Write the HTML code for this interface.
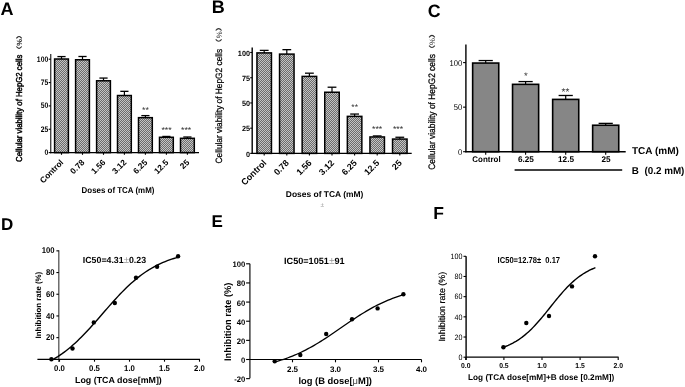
<!DOCTYPE html>
<html><head><meta charset="utf-8"><style>
html,body{margin:0;padding:0;background:#fff;}
svg{display:block;font-family:"Liberation Sans", sans-serif;will-change:transform;text-rendering:geometricPrecision;}
</style></head><body>
<svg width="685" height="387" viewBox="0 0 685 387">
<rect width="685" height="387" fill="#fff"/>
<defs><pattern id="chk" width="2" height="2" patternUnits="userSpaceOnUse"><rect width="2" height="2" fill="#6c6c6c"/><rect width="1" height="1" fill="#c4c4c4"/><rect x="1" y="1" width="1" height="1" fill="#c4c4c4"/></pattern></defs>
<text x="0.50" y="15.10" font-size="18" text-anchor="start" font-weight="bold" fill="#000">A</text>
<text x="211.80" y="13.40" font-size="18" text-anchor="start" font-weight="bold" fill="#000">B</text>
<text x="427.70" y="17.10" font-size="17.8" text-anchor="start" font-weight="bold" fill="#000">C</text>
<text x="1.00" y="230.10" font-size="17" text-anchor="start" font-weight="bold" fill="#000">D</text>
<text x="211.50" y="226.70" font-size="17" text-anchor="start" font-weight="bold" fill="#000">E</text>
<text x="433.30" y="218.60" font-size="17.5" text-anchor="start" font-weight="bold" fill="#000">F</text>
<rect x="54.60" y="59.01" width="13.8" height="93.59" fill="url(#chk)" stroke="#000" stroke-width="1.5"/>
<line x1="61.50" y1="59.01" x2="61.50" y2="56.58" stroke="#000" stroke-width="1.2"/>
<line x1="57.40" y1="56.58" x2="65.60" y2="56.58" stroke="#000" stroke-width="1.3"/>
<rect x="75.60" y="59.76" width="13.8" height="92.84" fill="url(#chk)" stroke="#000" stroke-width="1.5"/>
<line x1="82.50" y1="59.76" x2="82.50" y2="56.49" stroke="#000" stroke-width="1.2"/>
<line x1="78.40" y1="56.49" x2="86.60" y2="56.49" stroke="#000" stroke-width="1.3"/>
<rect x="96.60" y="80.78" width="13.8" height="71.82" fill="url(#chk)" stroke="#000" stroke-width="1.5"/>
<line x1="103.50" y1="80.78" x2="103.50" y2="78.07" stroke="#000" stroke-width="1.2"/>
<line x1="99.40" y1="78.07" x2="107.60" y2="78.07" stroke="#000" stroke-width="1.3"/>
<rect x="117.50" y="95.53" width="13.8" height="57.07" fill="url(#chk)" stroke="#000" stroke-width="1.5"/>
<line x1="124.40" y1="95.53" x2="124.40" y2="91.33" stroke="#000" stroke-width="1.2"/>
<line x1="120.30" y1="91.33" x2="128.50" y2="91.33" stroke="#000" stroke-width="1.3"/>
<rect x="138.50" y="117.67" width="13.8" height="34.93" fill="url(#chk)" stroke="#000" stroke-width="1.5"/>
<line x1="145.40" y1="117.67" x2="145.40" y2="115.61" stroke="#000" stroke-width="1.2"/>
<line x1="141.30" y1="115.61" x2="149.50" y2="115.61" stroke="#000" stroke-width="1.3"/>
<rect x="159.50" y="137.28" width="13.8" height="15.32" fill="url(#chk)" stroke="#000" stroke-width="1.5"/>
<line x1="166.40" y1="137.28" x2="166.40" y2="136.44" stroke="#000" stroke-width="1.2"/>
<line x1="162.30" y1="136.44" x2="170.50" y2="136.44" stroke="#000" stroke-width="1.3"/>
<rect x="180.50" y="138.31" width="13.8" height="14.29" fill="url(#chk)" stroke="#000" stroke-width="1.5"/>
<line x1="187.40" y1="138.31" x2="187.40" y2="137.00" stroke="#000" stroke-width="1.2"/>
<line x1="183.30" y1="137.00" x2="191.50" y2="137.00" stroke="#000" stroke-width="1.3"/>
<line x1="50.70" y1="54.00" x2="50.70" y2="153.20" stroke="#444" stroke-width="1.4"/>
<line x1="50.10" y1="152.60" x2="199.00" y2="152.60" stroke="#000" stroke-width="1.4"/>
<line x1="48.70" y1="59.20" x2="50.70" y2="59.20" stroke="#000" stroke-width="1.1"/>
<text transform="translate(48.20 61.56) rotate(0) scale(0.85 1)" font-size="8" text-anchor="end" font-weight="bold" fill="#000">100</text>
<line x1="48.70" y1="82.55" x2="50.70" y2="82.55" stroke="#000" stroke-width="1.1"/>
<text transform="translate(48.20 84.91) rotate(0) scale(0.85 1)" font-size="8" text-anchor="end" font-weight="bold" fill="#000">75</text>
<line x1="48.70" y1="105.90" x2="50.70" y2="105.90" stroke="#000" stroke-width="1.1"/>
<text transform="translate(48.20 108.26) rotate(0) scale(0.85 1)" font-size="8" text-anchor="end" font-weight="bold" fill="#000">50</text>
<line x1="48.70" y1="129.25" x2="50.70" y2="129.25" stroke="#000" stroke-width="1.1"/>
<text transform="translate(48.20 131.61) rotate(0) scale(0.85 1)" font-size="8" text-anchor="end" font-weight="bold" fill="#000">25</text>
<line x1="48.70" y1="152.60" x2="50.70" y2="152.60" stroke="#000" stroke-width="1.1"/>
<text transform="translate(48.20 154.96) rotate(0) scale(0.85 1)" font-size="8" text-anchor="end" font-weight="bold" fill="#000">0</text>
<line x1="61.50" y1="152.60" x2="61.50" y2="154.80" stroke="#000" stroke-width="1.1"/>
<line x1="82.50" y1="152.60" x2="82.50" y2="154.80" stroke="#000" stroke-width="1.1"/>
<line x1="103.50" y1="152.60" x2="103.50" y2="154.80" stroke="#000" stroke-width="1.1"/>
<line x1="124.40" y1="152.60" x2="124.40" y2="154.80" stroke="#000" stroke-width="1.1"/>
<line x1="145.40" y1="152.60" x2="145.40" y2="154.80" stroke="#000" stroke-width="1.1"/>
<line x1="166.40" y1="152.60" x2="166.40" y2="154.80" stroke="#000" stroke-width="1.1"/>
<line x1="187.40" y1="152.60" x2="187.40" y2="154.80" stroke="#000" stroke-width="1.1"/>
<rect x="256.95" y="52.90" width="14.5" height="100.50" fill="url(#chk)" stroke="#000" stroke-width="1.5"/>
<line x1="264.20" y1="52.90" x2="264.20" y2="50.38" stroke="#000" stroke-width="1.2"/>
<line x1="259.80" y1="50.38" x2="268.60" y2="50.38" stroke="#000" stroke-width="1.3"/>
<rect x="279.55" y="54.11" width="14.5" height="99.29" fill="url(#chk)" stroke="#000" stroke-width="1.5"/>
<line x1="286.80" y1="54.11" x2="286.80" y2="49.67" stroke="#000" stroke-width="1.2"/>
<line x1="282.40" y1="49.67" x2="291.20" y2="49.67" stroke="#000" stroke-width="1.3"/>
<rect x="302.15" y="76.41" width="14.5" height="76.99" fill="url(#chk)" stroke="#000" stroke-width="1.5"/>
<line x1="309.40" y1="76.41" x2="309.40" y2="73.18" stroke="#000" stroke-width="1.2"/>
<line x1="305.00" y1="73.18" x2="313.80" y2="73.18" stroke="#000" stroke-width="1.3"/>
<rect x="324.75" y="92.25" width="14.5" height="61.15" fill="url(#chk)" stroke="#000" stroke-width="1.5"/>
<line x1="332.00" y1="92.25" x2="332.00" y2="87.21" stroke="#000" stroke-width="1.2"/>
<line x1="327.60" y1="87.21" x2="336.40" y2="87.21" stroke="#000" stroke-width="1.3"/>
<rect x="347.35" y="116.37" width="14.5" height="37.03" fill="url(#chk)" stroke="#000" stroke-width="1.5"/>
<line x1="354.60" y1="116.37" x2="354.60" y2="114.05" stroke="#000" stroke-width="1.2"/>
<line x1="350.20" y1="114.05" x2="359.00" y2="114.05" stroke="#000" stroke-width="1.3"/>
<rect x="369.95" y="136.95" width="14.5" height="16.45" fill="url(#chk)" stroke="#000" stroke-width="1.5"/>
<line x1="377.20" y1="136.95" x2="377.20" y2="135.94" stroke="#000" stroke-width="1.2"/>
<line x1="372.80" y1="135.94" x2="381.60" y2="135.94" stroke="#000" stroke-width="1.3"/>
<rect x="392.55" y="139.07" width="14.5" height="14.33" fill="url(#chk)" stroke="#000" stroke-width="1.5"/>
<line x1="399.80" y1="139.07" x2="399.80" y2="137.26" stroke="#000" stroke-width="1.2"/>
<line x1="395.40" y1="137.26" x2="404.20" y2="137.26" stroke="#000" stroke-width="1.3"/>
<line x1="252.20" y1="47.60" x2="252.20" y2="154.00" stroke="#000" stroke-width="1.4"/>
<line x1="251.60" y1="153.40" x2="411.70" y2="153.40" stroke="#000" stroke-width="1.4"/>
<line x1="250.20" y1="52.50" x2="252.20" y2="52.50" stroke="#000" stroke-width="1.1"/>
<text transform="translate(250.00 55.79) rotate(0) scale(0.97 1)" font-size="7.5" text-anchor="end" font-weight="bold" fill="#000">100</text>
<line x1="250.20" y1="77.73" x2="252.20" y2="77.73" stroke="#000" stroke-width="1.1"/>
<text transform="translate(250.00 81.01) rotate(0) scale(0.97 1)" font-size="7.5" text-anchor="end" font-weight="bold" fill="#000">75</text>
<line x1="250.20" y1="102.95" x2="252.20" y2="102.95" stroke="#000" stroke-width="1.1"/>
<text transform="translate(250.00 106.24) rotate(0) scale(0.97 1)" font-size="7.5" text-anchor="end" font-weight="bold" fill="#000">50</text>
<line x1="250.20" y1="128.18" x2="252.20" y2="128.18" stroke="#000" stroke-width="1.1"/>
<text transform="translate(250.00 131.46) rotate(0) scale(0.97 1)" font-size="7.5" text-anchor="end" font-weight="bold" fill="#000">25</text>
<line x1="250.20" y1="153.40" x2="252.20" y2="153.40" stroke="#000" stroke-width="1.1"/>
<text transform="translate(250.00 156.69) rotate(0) scale(0.97 1)" font-size="7.5" text-anchor="end" font-weight="bold" fill="#000">0</text>
<line x1="264.20" y1="153.40" x2="264.20" y2="155.60" stroke="#000" stroke-width="1.1"/>
<line x1="286.80" y1="153.40" x2="286.80" y2="155.60" stroke="#000" stroke-width="1.1"/>
<line x1="309.40" y1="153.40" x2="309.40" y2="155.60" stroke="#000" stroke-width="1.1"/>
<line x1="332.00" y1="153.40" x2="332.00" y2="155.60" stroke="#000" stroke-width="1.1"/>
<line x1="354.60" y1="153.40" x2="354.60" y2="155.60" stroke="#000" stroke-width="1.1"/>
<line x1="377.20" y1="153.40" x2="377.20" y2="155.60" stroke="#000" stroke-width="1.1"/>
<line x1="399.80" y1="153.40" x2="399.80" y2="155.60" stroke="#000" stroke-width="1.1"/>
<rect x="472.65" y="63.05" width="26.1" height="88.65" fill="#868686" stroke="#000" stroke-width="1.6"/>
<line x1="485.70" y1="63.05" x2="485.70" y2="60.55" stroke="#000" stroke-width="1.2"/>
<line x1="478.60" y1="60.55" x2="492.80" y2="60.55" stroke="#000" stroke-width="1.3"/>
<rect x="512.55" y="84.34" width="26.1" height="67.36" fill="#868686" stroke="#000" stroke-width="1.6"/>
<line x1="525.60" y1="84.34" x2="525.60" y2="81.58" stroke="#000" stroke-width="1.2"/>
<line x1="518.50" y1="81.58" x2="532.70" y2="81.58" stroke="#000" stroke-width="1.3"/>
<rect x="552.65" y="99.40" width="26.1" height="52.30" fill="#868686" stroke="#000" stroke-width="1.6"/>
<line x1="565.70" y1="99.40" x2="565.70" y2="95.48" stroke="#000" stroke-width="1.2"/>
<line x1="558.60" y1="95.48" x2="572.80" y2="95.48" stroke="#000" stroke-width="1.3"/>
<rect x="592.65" y="125.24" width="26.1" height="26.46" fill="#868686" stroke="#000" stroke-width="1.6"/>
<line x1="605.70" y1="125.24" x2="605.70" y2="123.37" stroke="#000" stroke-width="1.2"/>
<line x1="598.60" y1="123.37" x2="612.80" y2="123.37" stroke="#000" stroke-width="1.3"/>
<line x1="465.90" y1="44.60" x2="465.90" y2="152.30" stroke="#000" stroke-width="1.4"/>
<line x1="465.30" y1="151.70" x2="625.70" y2="151.70" stroke="#000" stroke-width="1.4"/>
<line x1="463.10" y1="62.60" x2="465.90" y2="62.60" stroke="#000" stroke-width="1.1"/>
<text transform="translate(462.30 65.51) rotate(0) scale(0.91 1)" font-size="8.4" text-anchor="end" font-weight="normal" fill="#000">100</text>
<line x1="463.10" y1="107.15" x2="465.90" y2="107.15" stroke="#000" stroke-width="1.1"/>
<text transform="translate(462.30 110.06) rotate(0) scale(0.91 1)" font-size="8.4" text-anchor="end" font-weight="normal" fill="#000">50</text>
<line x1="463.10" y1="151.70" x2="465.90" y2="151.70" stroke="#000" stroke-width="1.1"/>
<text transform="translate(462.30 154.61) rotate(0) scale(0.91 1)" font-size="8.4" text-anchor="end" font-weight="normal" fill="#000">0</text>
<line x1="485.70" y1="151.70" x2="485.70" y2="154.70" stroke="#000" stroke-width="1.1"/>
<line x1="525.60" y1="151.70" x2="525.60" y2="154.70" stroke="#000" stroke-width="1.1"/>
<line x1="565.70" y1="151.70" x2="565.70" y2="154.70" stroke="#000" stroke-width="1.1"/>
<line x1="605.70" y1="151.70" x2="605.70" y2="154.70" stroke="#000" stroke-width="1.1"/>
<text x="145.40" y="112.70" font-size="8.8" text-anchor="middle" font-weight="normal" fill="#333">**</text>
<text x="166.50" y="133.10" font-size="8.7" text-anchor="middle" font-weight="normal" fill="#333">***</text>
<text x="186.20" y="133.10" font-size="8.7" text-anchor="middle" font-weight="normal" fill="#333">***</text>
<text x="354.70" y="109.60" font-size="8.6" text-anchor="middle" font-weight="normal" fill="#333">**</text>
<text x="377.20" y="132.30" font-size="8.7" text-anchor="middle" font-weight="normal" fill="#333">***</text>
<text x="398.00" y="132.30" font-size="8.7" text-anchor="middle" font-weight="normal" fill="#333">***</text>
<text x="525.80" y="78.60" font-size="9.5" text-anchor="middle" font-weight="normal" fill="#333">*</text>
<text x="565.50" y="95.00" font-size="10" text-anchor="middle" font-weight="normal" fill="#333">**</text>
<text transform="translate(64.00 163.00) rotate(-45) scale(1.0 1)" font-size="8.3" text-anchor="end" font-weight="bold" fill="#000">Control</text>
<text transform="translate(85.00 163.00) rotate(-45) scale(1.0 1)" font-size="8.3" text-anchor="end" font-weight="bold" fill="#000">0.78</text>
<text transform="translate(106.00 163.00) rotate(-45) scale(1.0 1)" font-size="8.3" text-anchor="end" font-weight="bold" fill="#000">1.56</text>
<text transform="translate(126.90 163.00) rotate(-45) scale(1.0 1)" font-size="8.3" text-anchor="end" font-weight="bold" fill="#000">3.12</text>
<text transform="translate(147.90 163.00) rotate(-45) scale(1.0 1)" font-size="8.3" text-anchor="end" font-weight="bold" fill="#000">6.25</text>
<text transform="translate(168.90 163.00) rotate(-45) scale(1.0 1)" font-size="8.3" text-anchor="end" font-weight="bold" fill="#000">12.5</text>
<text transform="translate(189.90 163.00) rotate(-45) scale(1.0 1)" font-size="8.3" text-anchor="end" font-weight="bold" fill="#000">25</text>
<text transform="translate(267.00 163.50) rotate(-45) scale(1.0 1)" font-size="8.9" text-anchor="end" font-weight="bold" fill="#000">Control</text>
<text transform="translate(289.60 163.50) rotate(-45) scale(1.0 1)" font-size="8.9" text-anchor="end" font-weight="bold" fill="#000">0.78</text>
<text transform="translate(312.20 163.50) rotate(-45) scale(1.0 1)" font-size="8.9" text-anchor="end" font-weight="bold" fill="#000">1.56</text>
<text transform="translate(334.80 163.50) rotate(-45) scale(1.0 1)" font-size="8.9" text-anchor="end" font-weight="bold" fill="#000">3.12</text>
<text transform="translate(357.40 163.50) rotate(-45) scale(1.0 1)" font-size="8.9" text-anchor="end" font-weight="bold" fill="#000">6.25</text>
<text transform="translate(380.00 163.50) rotate(-45) scale(1.0 1)" font-size="8.9" text-anchor="end" font-weight="bold" fill="#000">12.5</text>
<text transform="translate(402.60 163.50) rotate(-45) scale(1.0 1)" font-size="8.9" text-anchor="end" font-weight="bold" fill="#000">25</text>
<text x="81.60" y="193.40" font-size="8.5" text-anchor="start" font-weight="bold" fill="#000" textLength="72.8" lengthAdjust="spacingAndGlyphs">Doses of TCA (mM)</text>
<text x="324.60" y="196.90" font-size="8.45" text-anchor="middle" font-weight="bold" fill="#000">Doses of TCA (mM)</text>
<text x="322.20" y="207.20" font-size="6.5" text-anchor="middle" font-weight="normal" fill="#999">±</text>
<text transform="translate(22.30 162.00) rotate(-90) scale(1.0 1)" font-size="8.6" text-anchor="start" font-weight="normal" fill="#000" stroke="#000" stroke-width="0.45" textLength="107.4" lengthAdjust="spacingAndGlyphs">Cellular viability of HepG2 cells</text>
<path d="M16.400000000000002,38.4 Q19.05,34.6 21.7,38.4" fill="none" stroke="#222" stroke-width="1.1"/>
<path d="M16.400000000000002,46.5 Q19.05,50.3 21.7,46.5" fill="none" stroke="#222" stroke-width="1.1"/>
<text transform="translate(21.90 42.45) rotate(-90) scale(1.0 1)" font-size="7.5" text-anchor="middle" font-weight="bold" fill="#222">%</text>
<text transform="translate(222.40 163.40) rotate(-90) scale(1.0 1)" font-size="9.2" text-anchor="start" font-weight="normal" fill="#000" stroke="#000" stroke-width="0.25" textLength="114.5" lengthAdjust="spacingAndGlyphs">Cellular viability of HepG2 cells</text>
<path d="M215.70000000000002,30.5 Q218.65,26.7 221.6,30.5" fill="none" stroke="#333" stroke-width="1.1"/>
<path d="M215.70000000000002,39.3 Q218.65,43.099999999999994 221.6,39.3" fill="none" stroke="#333" stroke-width="1.1"/>
<text transform="translate(221.80 34.90) rotate(-90) scale(1.0 1)" font-size="7.8" text-anchor="middle" font-weight="normal" fill="#333">%</text>
<text transform="translate(435.30 169.70) rotate(-90) scale(1.0 1)" font-size="9.4" text-anchor="start" font-weight="normal" fill="#000" stroke="#000" stroke-width="0.25" textLength="115.6" lengthAdjust="spacingAndGlyphs">Cellular viability of HepG2 cells</text>
<path d="M429.1,37.3 Q431.95000000000005,33.5 434.8,37.3" fill="none" stroke="#333" stroke-width="1.1"/>
<path d="M429.1,45.6 Q431.95000000000005,49.4 434.8,45.6" fill="none" stroke="#333" stroke-width="1.1"/>
<text transform="translate(435.00 41.45) rotate(-90) scale(1.0 1)" font-size="7.8" text-anchor="middle" font-weight="normal" fill="#333">%</text>
<text x="472.30" y="162.20" font-size="8.2" text-anchor="start" font-weight="bold" fill="#000" textLength="28.3" lengthAdjust="spacingAndGlyphs">Control</text>
<text x="525.90" y="162.20" font-size="8.2" text-anchor="middle" font-weight="bold" fill="#000">6.25</text>
<text x="566.00" y="162.20" font-size="8.2" text-anchor="middle" font-weight="bold" fill="#000">12.5</text>
<text x="606.00" y="162.20" font-size="8.2" text-anchor="middle" font-weight="bold" fill="#000">25</text>
<text x="632.00" y="154.20" font-size="10" text-anchor="start" font-weight="bold" fill="#000">TCA (mM)</text>
<text x="631.80" y="174.10" font-size="10" text-anchor="start" font-weight="bold" fill="#000" textLength="52.6" lengthAdjust="spacingAndGlyphs">B&#160;&#160;(0.2 mM)</text>
<line x1="514.60" y1="170.00" x2="622.20" y2="170.00" stroke="#000" stroke-width="1.5"/>
<line x1="58.80" y1="250.30" x2="58.80" y2="362.00" stroke="#555" stroke-width="1.3"/>
<line x1="37.40" y1="359.35" x2="200.00" y2="359.35" stroke="#000" stroke-width="1.15"/>
<line x1="56.40" y1="337.65" x2="58.80" y2="337.65" stroke="#000" stroke-width="1.1"/>
<text transform="translate(54.60 340.26) rotate(0) scale(0.92 1)" font-size="8.4" text-anchor="end" font-weight="bold" fill="#000">20</text>
<line x1="56.40" y1="315.95" x2="58.80" y2="315.95" stroke="#000" stroke-width="1.1"/>
<text transform="translate(54.60 318.56) rotate(0) scale(0.92 1)" font-size="8.4" text-anchor="end" font-weight="bold" fill="#000">40</text>
<line x1="56.40" y1="294.25" x2="58.80" y2="294.25" stroke="#000" stroke-width="1.1"/>
<text transform="translate(54.60 296.86) rotate(0) scale(0.92 1)" font-size="8.4" text-anchor="end" font-weight="bold" fill="#000">60</text>
<line x1="56.40" y1="272.55" x2="58.80" y2="272.55" stroke="#000" stroke-width="1.1"/>
<text transform="translate(54.60 275.16) rotate(0) scale(0.92 1)" font-size="8.4" text-anchor="end" font-weight="bold" fill="#000">80</text>
<line x1="56.40" y1="250.85" x2="58.80" y2="250.85" stroke="#000" stroke-width="1.1"/>
<text transform="translate(54.60 253.46) rotate(0) scale(0.92 1)" font-size="8.4" text-anchor="end" font-weight="bold" fill="#000">100</text>
<line x1="59.50" y1="359.35" x2="59.50" y2="361.70" stroke="#000" stroke-width="1.1"/>
<text transform="translate(59.50 370.94) rotate(0) scale(0.95 1)" font-size="8.2" text-anchor="middle" font-weight="bold" fill="#000">0.0</text>
<line x1="94.50" y1="359.35" x2="94.50" y2="361.70" stroke="#000" stroke-width="1.1"/>
<text transform="translate(94.50 370.94) rotate(0) scale(0.95 1)" font-size="8.2" text-anchor="middle" font-weight="bold" fill="#000">0.5</text>
<line x1="129.50" y1="359.35" x2="129.50" y2="361.70" stroke="#000" stroke-width="1.1"/>
<text transform="translate(129.50 370.94) rotate(0) scale(0.95 1)" font-size="8.2" text-anchor="middle" font-weight="bold" fill="#000">1.0</text>
<line x1="164.50" y1="359.35" x2="164.50" y2="361.70" stroke="#000" stroke-width="1.1"/>
<text transform="translate(164.50 370.94) rotate(0) scale(0.95 1)" font-size="8.2" text-anchor="middle" font-weight="bold" fill="#000">1.5</text>
<line x1="199.50" y1="359.35" x2="199.50" y2="361.70" stroke="#000" stroke-width="1.1"/>
<text transform="translate(199.50 370.94) rotate(0) scale(0.95 1)" font-size="8.2" text-anchor="middle" font-weight="bold" fill="#000">2.0</text>
<text x="75.00" y="382.70" font-size="8.8" text-anchor="start" font-weight="bold" fill="#000" textLength="86.8" lengthAdjust="spacingAndGlyphs">Log (TCA dose[mM])</text>
<text transform="translate(40.60 338.40) rotate(-90) scale(1.0 1)" font-size="7.9" text-anchor="start" font-weight="bold" fill="#000">Inhibition rate (%)</text>
<text x="82.80" y="263.40" font-size="8.8" text-anchor="start" font-weight="bold" fill="#000">IC50=4.31<tspan fill="#999" font-weight="normal" font-size="9.6">±</tspan>0.23</text>
<path d="M51.40,360.41 L53.55,359.20 L55.69,357.92 L57.84,356.57 L59.99,355.14 L62.14,353.65 L64.28,352.08 L66.43,350.44 L68.58,348.73 L70.73,346.95 L72.87,345.09 L75.02,343.16 L77.17,341.17 L79.32,339.10 L81.46,336.98 L83.61,334.79 L85.76,332.55 L87.91,330.26 L90.05,327.93 L92.20,325.55 L94.35,323.14 L96.50,320.70 L98.64,318.24 L100.79,315.77 L102.94,313.30 L105.09,310.82 L107.23,308.35 L109.38,305.90 L111.53,303.47 L113.68,301.07 L115.82,298.70 L117.97,296.38 L120.12,294.10 L122.27,291.88 L124.41,289.71 L126.56,287.61 L128.71,285.56 L130.86,283.59 L133.00,281.68 L135.15,279.85 L137.30,278.09 L139.45,276.40 L141.59,274.78 L143.74,273.23 L145.89,271.76 L148.04,270.36 L150.18,269.03 L152.33,267.77 L154.48,266.58 L156.63,265.45 L158.77,264.38 L160.92,263.37 L163.07,262.43 L165.22,261.53 L167.36,260.70 L169.51,259.91 L171.66,259.17 L173.81,258.48 L175.95,257.83 L178.10,257.22" fill="none" stroke="#000" stroke-width="1.4"/>
<circle cx="51.4" cy="359.3" r="2.2"/>
<circle cx="72.5" cy="348.5" r="2.2"/>
<circle cx="93.8" cy="322.4" r="2.2"/>
<circle cx="114.8" cy="303" r="2.2"/>
<circle cx="136" cy="277.8" r="2.2"/>
<circle cx="157.1" cy="266.8" r="2.2"/>
<circle cx="178.1" cy="256.3" r="2.2"/>
<line x1="249.90" y1="263.70" x2="249.90" y2="378.20" stroke="#333" stroke-width="1.4"/>
<line x1="249.90" y1="359.50" x2="421.50" y2="359.50" stroke="#000" stroke-width="1.2"/>
<line x1="246.10" y1="378.64" x2="249.90" y2="378.64" stroke="#000" stroke-width="1.1"/>
<text transform="translate(245.30 382.10) rotate(0) scale(0.96 1)" font-size="8" text-anchor="end" font-weight="bold" fill="#000">-20</text>
<line x1="246.10" y1="359.50" x2="249.90" y2="359.50" stroke="#000" stroke-width="1.1"/>
<text transform="translate(245.30 362.96) rotate(0) scale(0.96 1)" font-size="8" text-anchor="end" font-weight="bold" fill="#000">0</text>
<line x1="246.10" y1="340.36" x2="249.90" y2="340.36" stroke="#000" stroke-width="1.1"/>
<text transform="translate(245.30 343.82) rotate(0) scale(0.96 1)" font-size="8" text-anchor="end" font-weight="bold" fill="#000">20</text>
<line x1="246.10" y1="321.22" x2="249.90" y2="321.22" stroke="#000" stroke-width="1.1"/>
<text transform="translate(245.30 324.68) rotate(0) scale(0.96 1)" font-size="8" text-anchor="end" font-weight="bold" fill="#000">40</text>
<line x1="246.10" y1="302.08" x2="249.90" y2="302.08" stroke="#000" stroke-width="1.1"/>
<text transform="translate(245.30 305.54) rotate(0) scale(0.96 1)" font-size="8" text-anchor="end" font-weight="bold" fill="#000">60</text>
<line x1="246.10" y1="282.94" x2="249.90" y2="282.94" stroke="#000" stroke-width="1.1"/>
<text transform="translate(245.30 286.40) rotate(0) scale(0.96 1)" font-size="8" text-anchor="end" font-weight="bold" fill="#000">80</text>
<line x1="246.10" y1="263.80" x2="249.90" y2="263.80" stroke="#000" stroke-width="1.1"/>
<text transform="translate(245.30 267.26) rotate(0) scale(0.96 1)" font-size="8" text-anchor="end" font-weight="bold" fill="#000">100</text>
<line x1="292.50" y1="359.50" x2="292.50" y2="362.30" stroke="#000" stroke-width="1.1"/>
<text x="292.50" y="371.66" font-size="8" text-anchor="middle" font-weight="bold" fill="#000">2.5</text>
<line x1="335.50" y1="359.50" x2="335.50" y2="362.30" stroke="#000" stroke-width="1.1"/>
<text x="335.50" y="371.66" font-size="8" text-anchor="middle" font-weight="bold" fill="#000">3.0</text>
<line x1="378.50" y1="359.50" x2="378.50" y2="362.30" stroke="#000" stroke-width="1.1"/>
<text x="378.50" y="371.66" font-size="8" text-anchor="middle" font-weight="bold" fill="#000">3.5</text>
<line x1="421.50" y1="359.50" x2="421.50" y2="362.30" stroke="#000" stroke-width="1.1"/>
<text x="421.50" y="371.66" font-size="8" text-anchor="middle" font-weight="bold" fill="#000">4.0</text>
<text x="298.40" y="384.00" font-size="9.4" text-anchor="start" font-weight="bold" fill="#000" textLength="73.6" lengthAdjust="spacingAndGlyphs">log (B dose[<tspan font-weight="normal" fill="#444">μ</tspan>M])</text>
<text transform="translate(230.80 361.00) rotate(-90) scale(1.0 1)" font-size="9.6" text-anchor="start" font-weight="bold" fill="#000" textLength="78.4" lengthAdjust="spacingAndGlyphs">Inhibition rate (%)</text>
<text x="284.00" y="263.80" font-size="9.15" text-anchor="start" font-weight="bold" fill="#000">IC50=1051<tspan fill="#999" font-weight="normal" font-size="10.2">±</tspan>91</text>
<path d="M275.00,361.91 L277.18,361.31 L279.35,360.67 L281.53,359.99 L283.71,359.28 L285.88,358.54 L288.06,357.75 L290.23,356.93 L292.41,356.07 L294.59,355.18 L296.76,354.24 L298.94,353.26 L301.12,352.24 L303.29,351.19 L305.47,350.09 L307.64,348.95 L309.82,347.78 L312.00,346.57 L314.17,345.32 L316.35,344.04 L318.53,342.72 L320.70,341.37 L322.88,340.00 L325.05,338.60 L327.23,337.17 L329.41,335.72 L331.58,334.26 L333.76,332.78 L335.94,331.29 L338.11,329.79 L340.29,328.28 L342.46,326.78 L344.64,325.27 L346.82,323.78 L348.99,322.29 L351.17,320.82 L353.35,319.36 L355.52,317.92 L357.70,316.51 L359.87,315.12 L362.05,313.76 L364.23,312.43 L366.40,311.13 L368.58,309.86 L370.76,308.63 L372.93,307.44 L375.11,306.28 L377.28,305.17 L379.46,304.09 L381.64,303.05 L383.81,302.06 L385.99,301.10 L388.17,300.18 L390.34,299.30 L392.52,298.46 L394.69,297.66 L396.87,296.90 L399.05,296.17 L401.22,295.48 L403.40,294.82" fill="none" stroke="#000" stroke-width="1.3"/>
<circle cx="274.7" cy="361.3" r="2.2"/>
<circle cx="300.3" cy="355" r="2.2"/>
<circle cx="326.2" cy="334" r="2.2"/>
<circle cx="352" cy="319.3" r="2.2"/>
<circle cx="377.6" cy="308.4" r="2.2"/>
<circle cx="403.4" cy="294.2" r="2.2"/>
<line x1="466.10" y1="256.30" x2="466.10" y2="360.00" stroke="#000" stroke-width="1.4"/>
<line x1="466.10" y1="357.20" x2="618.60" y2="357.20" stroke="#000" stroke-width="1.3"/>
<line x1="463.50" y1="357.20" x2="466.10" y2="357.20" stroke="#000" stroke-width="1.1"/>
<text transform="translate(462.40 359.89) rotate(0) scale(0.915 1)" font-size="7.8" text-anchor="end" font-weight="normal" fill="#000">0</text>
<line x1="463.50" y1="337.02" x2="466.10" y2="337.02" stroke="#000" stroke-width="1.1"/>
<text transform="translate(462.40 339.71) rotate(0) scale(0.915 1)" font-size="7.8" text-anchor="end" font-weight="normal" fill="#000">20</text>
<line x1="463.50" y1="316.84" x2="466.10" y2="316.84" stroke="#000" stroke-width="1.1"/>
<text transform="translate(462.40 319.53) rotate(0) scale(0.915 1)" font-size="7.8" text-anchor="end" font-weight="normal" fill="#000">40</text>
<line x1="463.50" y1="296.66" x2="466.10" y2="296.66" stroke="#000" stroke-width="1.1"/>
<text transform="translate(462.40 299.35) rotate(0) scale(0.915 1)" font-size="7.8" text-anchor="end" font-weight="normal" fill="#000">60</text>
<line x1="463.50" y1="276.48" x2="466.10" y2="276.48" stroke="#000" stroke-width="1.1"/>
<text transform="translate(462.40 279.17) rotate(0) scale(0.915 1)" font-size="7.8" text-anchor="end" font-weight="normal" fill="#000">80</text>
<line x1="463.50" y1="256.30" x2="466.10" y2="256.30" stroke="#000" stroke-width="1.1"/>
<text transform="translate(462.40 258.99) rotate(0) scale(0.915 1)" font-size="7.8" text-anchor="end" font-weight="normal" fill="#000">100</text>
<line x1="465.80" y1="357.20" x2="465.80" y2="360.00" stroke="#000" stroke-width="1.1"/>
<text transform="translate(465.80 368.38) rotate(0) scale(0.95 1)" font-size="7.2" text-anchor="middle" font-weight="bold" fill="#000">0.0</text>
<line x1="503.90" y1="357.20" x2="503.90" y2="360.00" stroke="#000" stroke-width="1.1"/>
<text transform="translate(503.90 368.38) rotate(0) scale(0.95 1)" font-size="7.2" text-anchor="middle" font-weight="bold" fill="#000">0.5</text>
<line x1="542.00" y1="357.20" x2="542.00" y2="360.00" stroke="#000" stroke-width="1.1"/>
<text transform="translate(542.00 368.38) rotate(0) scale(0.95 1)" font-size="7.2" text-anchor="middle" font-weight="bold" fill="#000">1.0</text>
<line x1="580.10" y1="357.20" x2="580.10" y2="360.00" stroke="#000" stroke-width="1.1"/>
<text transform="translate(580.10 368.38) rotate(0) scale(0.95 1)" font-size="7.2" text-anchor="middle" font-weight="bold" fill="#000">1.5</text>
<line x1="618.20" y1="357.20" x2="618.20" y2="360.00" stroke="#000" stroke-width="1.1"/>
<text transform="translate(618.20 368.38) rotate(0) scale(0.95 1)" font-size="7.2" text-anchor="middle" font-weight="bold" fill="#000">2.0</text>
<text x="468.00" y="380.00" font-size="8.2" text-anchor="start" font-weight="bold" fill="#000" textLength="146.3" lengthAdjust="spacingAndGlyphs">Log (TCA dose[mM]+B dose [0.2mM])</text>
<text transform="translate(445.20 341.60) rotate(-90) scale(1.0 1)" font-size="8.9" text-anchor="start" font-weight="normal" fill="#000" stroke="#000" stroke-width="0.2" textLength="69.8" lengthAdjust="spacingAndGlyphs">Inhibition rate (%)</text>
<text x="497.60" y="263.00" font-size="8.6" text-anchor="start" font-weight="bold" fill="#000" textLength="62.5" lengthAdjust="spacingAndGlyphs">IC50=12.78±&#160;&#160;0.17</text>
<path d="M503.50,347.22 L505.06,346.64 L506.62,346.02 L508.17,345.36 L509.73,344.65 L511.29,343.89 L512.85,343.09 L514.40,342.23 L515.96,341.32 L517.52,340.35 L519.08,339.33 L520.63,338.24 L522.19,337.10 L523.75,335.90 L525.31,334.63 L526.86,333.30 L528.42,331.91 L529.98,330.46 L531.54,328.95 L533.09,327.37 L534.65,325.75 L536.21,324.07 L537.77,322.34 L539.33,320.56 L540.88,318.74 L542.44,316.89 L544.00,315.00 L545.56,313.08 L547.11,311.15 L548.67,309.20 L550.23,307.25 L551.79,305.29 L553.34,303.35 L554.90,301.41 L556.46,299.49 L558.02,297.60 L559.57,295.74 L561.13,293.92 L562.69,292.14 L564.25,290.40 L565.81,288.71 L567.36,287.08 L568.92,285.50 L570.48,283.98 L572.04,282.53 L573.59,281.13 L575.15,279.79 L576.71,278.52 L578.27,277.30 L579.82,276.15 L581.38,275.06 L582.94,274.03 L584.50,273.06 L586.05,272.14 L587.61,271.28 L589.17,270.46 L590.73,269.70 L592.28,268.99 L593.84,268.32 L595.40,267.70" fill="none" stroke="#000" stroke-width="1.4"/>
<circle cx="503.4" cy="347.3" r="2.2"/>
<circle cx="526.3" cy="323" r="2.2"/>
<circle cx="549" cy="316" r="2.2"/>
<circle cx="572" cy="286.4" r="2.2"/>
<circle cx="595" cy="256.3" r="2.2"/>
</svg>
</body></html>
